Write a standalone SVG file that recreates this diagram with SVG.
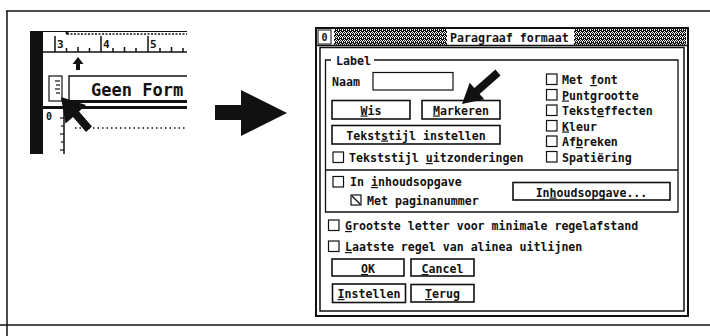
<svg xmlns="http://www.w3.org/2000/svg" width="710" height="336" viewBox="0 0 710 336">
  <defs>
    <style>
      .ln { stroke: #111; fill: none; }
      .blk { fill: #111; }
      .t { font-family: "DejaVu Sans Mono", "Liberation Mono", monospace; font-weight: bold; font-size: 11.6px; fill: #111; }
      .big { font-size: 17px; }
      .num { font-size: 11px; }
      .sm { font-size: 10px; }
      .c { text-anchor: middle; }
      .u { text-decoration: underline; }
      .box { fill: #fff; stroke: #111; stroke-width: 1.2; }
      .btn { fill: #fff; stroke: #111; stroke-width: 1.6; }
    </style>
    <!-- dithered grey used for the window title bar -->
    <pattern id="dither" width="4" height="4" patternUnits="userSpaceOnUse">
      <rect width="4" height="4" fill="#fff"/>
      <rect x="0" y="0" width="1" height="1" fill="#111"/>
      <rect x="2" y="0" width="1" height="1" fill="#111"/>
      <rect x="1" y="1" width="1" height="1" fill="#111"/>
      <rect x="3" y="1" width="1" height="1" fill="#111"/>
      <rect x="0" y="2" width="1" height="1" fill="#111"/>
      <rect x="1" y="2" width="1" height="1" fill="#111"/>
      <rect x="3" y="2" width="1" height="1" fill="#111"/>
      <rect x="1" y="3" width="1" height="1" fill="#111"/>
      <rect x="2" y="3" width="1" height="1" fill="#111"/>
      <rect x="3" y="3" width="1" height="1" fill="#111"/>
    </pattern>
  </defs>

  <rect width="710" height="336" fill="#fff"/>

  <!-- frame -->
  <g id="frame" class="ln" stroke-width="1.5">
    <line x1="6" y1="11" x2="710" y2="11"/>
    <line x1="7" y1="11" x2="7" y2="336"/>
    <line x1="0" y1="325" x2="710" y2="325"/>
  </g>

  <!-- ruler detail with mouse pointer -->
  <g id="ruler">
    <rect class="blk" x="30" y="31" width="13" height="123"/>
    <line class="ln" x1="43" y1="31.5" x2="187" y2="31.5" stroke-width="1"/>
    <line class="ln" x1="67" y1="34" x2="187" y2="34" stroke-width="1.5" stroke-dasharray="2 1.5"/>
    <circle class="blk" cx="67" cy="33" r="1.5"/>
    <line class="ln" x1="43" y1="52" x2="187" y2="52" stroke-width="1.5"/>
    <g class="ln" stroke-width="1.5">
      <line x1="55" y1="36" x2="55" y2="52"/>
      <line x1="101" y1="36" x2="101" y2="52"/>
      <line x1="148" y1="36" x2="148" y2="52"/>
      <line x1="66.5" y1="48" x2="66.5" y2="52"/>
      <line x1="78" y1="47" x2="78" y2="52"/>
      <line x1="89.5" y1="48" x2="89.5" y2="52"/>
      <line x1="113" y1="48" x2="113" y2="52"/>
      <line x1="124.5" y1="47" x2="124.5" y2="52"/>
      <line x1="136" y1="48" x2="136" y2="52"/>
      <line x1="160" y1="48" x2="160" y2="52"/>
      <line x1="171.5" y1="47" x2="171.5" y2="52"/>
      <line x1="183" y1="48" x2="183" y2="52"/>
    </g>
    <text class="t num" x="57" y="47.5">3</text>
    <text class="t num" x="103" y="47.5">4</text>
    <text class="t num" x="150" y="47.5">5</text>
    <!-- small up arrow -->
    <polygon class="blk" points="72.5,64 78,57 83.5,64 80,64 80,70 76,70 76,64"/>
    <!-- vertical ruler piece -->
    <rect x="49" y="76" width="13" height="25" fill="#fff" stroke="#111" stroke-width="1.2"/>
    <g class="ln" stroke-width="1.2">
      <line x1="55" y1="81" x2="60" y2="81"/>
      <line x1="56" y1="85" x2="60" y2="85"/>
      <line x1="55" y1="89" x2="60" y2="89"/>
      <line x1="56" y1="93" x2="60" y2="93"/>
    </g>
    <!-- style box -->
    <path class="ln" d="M187,76 H69 V101" stroke-width="1.4"/>
    <line class="ln" x1="69" y1="101.5" x2="187" y2="101.5" stroke-width="3"/>
    <line class="ln" x1="43" y1="107.5" x2="187" y2="107.5" stroke-width="3"/>
    <text class="t big" x="91" y="96">Geen Form</text>
    <text class="t sm" x="46" y="120">0</text>
    <line class="ln" x1="64" y1="108" x2="64" y2="154" stroke-width="1.5"/>
    <g class="ln" stroke-width="1.2">
      <line x1="60" y1="118" x2="64" y2="118"/>
      <line x1="61" y1="126" x2="64" y2="126"/>
      <line x1="60" y1="134" x2="64" y2="134"/>
      <line x1="61" y1="142" x2="64" y2="142"/>
      <line x1="60" y1="150" x2="64" y2="150"/>
    </g>
    <line class="ln" x1="75" y1="128" x2="187" y2="128" stroke-width="1.3" stroke-dasharray="1.5 3"/>
    <!-- mouse pointer -->
    <polygon class="blk" points="61,97 86,105 79,111.5 92,126.5 86,132 73,117 65.5,123.5"/>
  </g>

  <!-- connector between the two panels -->
  <g id="connectors">
    <polygon class="blk" points="215,105 241,105 241,90 287,113 241,136 241,120 215,120"/>
  </g>

  <!-- dialog window -->
  <g id="dialog">
    <rect x="316" y="28" width="372" height="288" fill="#fff" stroke="#111" stroke-width="2"/>
    <rect x="334" y="29" width="352" height="16" fill="url(#dither)"/>
    <rect x="447" y="29" width="127" height="16" fill="#fff"/>
    <rect x="318" y="30" width="13" height="14" fill="#fff" stroke="#111" stroke-width="1"/>
    <text class="t sm c" x="324.5" y="41">0</text>
    <text class="t" x="450" y="41.5">Paragraaf formaat</text>
    <line class="ln" x1="316" y1="45.5" x2="688" y2="45.5" stroke-width="1.5"/>
    <rect x="320" y="47.5" width="364" height="263.5" fill="none" stroke="#111" stroke-width="1.5"/>
  </g>

  <!-- Label group -->
  <g id="label-group">
    <path class="ln" stroke-width="1.3" d="M331,60 H325.5 V212 H678 V60 H374"/>
    <line class="ln" x1="325.5" y1="170" x2="678" y2="170" stroke-width="1.3"/>
    <text class="t" x="336" y="65">Label</text>
    <text class="t" x="332" y="86">Naam</text>
    <rect class="box" x="373" y="72.5" width="80" height="17.5"/>
  </g>

  <g id="btn-wis">
    <rect class="btn" x="332" y="100.5" width="78" height="18.5"/>
    <text class="t c" x="371" y="114.5"><tspan class="u">W</tspan>is</text>
  </g>
  <g id="btn-markeren">
    <rect class="btn" x="422" y="100.5" width="78" height="18.5"/>
    <text class="t c" x="461" y="114.5"><tspan class="u">M</tspan>arkeren</text>
  </g>
  <g id="pointer">
    <polygon class="blk" points="462,104 469.7,82.8 474.4,88 495.4,69.5 500.6,75.5 479.6,94 484.3,99.3"/>
  </g>
  <g id="btn-tekststijl">
    <rect class="btn" x="332" y="125.5" width="168" height="18.5"/>
    <text class="t c" x="416" y="139.5">Tekst<tspan class="u">s</tspan>tijl instellen</text>
  </g>
  <g id="chk-uitzonderingen">
    <rect class="box" x="333" y="152" width="10.5" height="10.5"/>
    <text class="t" x="349" y="162">Tekststijl <tspan class="u">u</tspan>itzonderingen</text>
  </g>

  <!-- right column options -->
  <g id="chk-font">
    <rect class="box" x="546.5" y="74" width="10.5" height="10.5"/>
    <text class="t" x="562" y="84">Met <tspan class="u">f</tspan>ont</text>
  </g>
  <g id="chk-punt">
    <rect class="box" x="546.5" y="89.5" width="10.5" height="10.5"/>
    <text class="t" x="562" y="99.5"><tspan class="u">P</tspan>untgrootte</text>
  </g>
  <g id="chk-effect">
    <rect class="box" x="546.5" y="105" width="10.5" height="10.5"/>
    <text class="t" x="562" y="115">Tekst<tspan class="u">e</tspan>ffecten</text>
  </g>
  <g id="chk-kleur">
    <rect class="box" x="546.5" y="120.5" width="10.5" height="10.5"/>
    <text class="t" x="562" y="130.5"><tspan class="u">K</tspan>leur</text>
  </g>
  <g id="chk-afbreken">
    <rect class="box" x="546.5" y="136" width="10.5" height="10.5"/>
    <text class="t" x="562" y="146">Af<tspan class="u">b</tspan>reken</text>
  </g>
  <g id="chk-spatiering">
    <rect class="box" x="546.5" y="151.5" width="10.5" height="10.5"/>
    <text class="t" x="562" y="161.5">Spatiëring</text>
  </g>

  <!-- table of contents options -->
  <g id="chk-inhoud">
    <rect class="box" x="333" y="176.5" width="10.5" height="10.5"/>
    <text class="t" x="350" y="186">In <tspan class="u">i</tspan>nhoudsopgave</text>
  </g>
  <g id="chk-pagina">
    <rect class="box" x="351" y="195" width="10" height="10"/>
    <line class="ln" x1="352" y1="196" x2="360" y2="204" stroke-width="1.2"/>
    <text class="t" x="367" y="205">Met paginanummer</text>
  </g>
  <g id="btn-inhoud">
    <rect class="btn" x="513" y="182.5" width="157" height="17.5"/>
    <text class="t c" x="591.5" y="196.5">In<tspan class="u">h</tspan>oudsopgave...</text>
  </g>

  <g id="chk-grootste">
    <rect class="box" x="328.5" y="220" width="10.5" height="10.5"/>
    <text class="t" x="345" y="230"><tspan class="u">G</tspan>rootste letter voor minimale regelafstand</text>
  </g>
  <g id="chk-laatste">
    <rect class="box" x="328.5" y="241" width="10.5" height="10.5"/>
    <text class="t" x="345" y="251"><tspan class="u">L</tspan>aatste regel van alinea uitlijnen</text>
  </g>

  <g id="btn-ok">
    <rect class="btn" x="332" y="259" width="72" height="17"/>
    <text class="t c" x="368" y="273"><tspan class="u">O</tspan>K</text>
  </g>
  <g id="btn-cancel">
    <rect class="btn" x="411" y="259" width="63" height="17"/>
    <text class="t c" x="442.5" y="273"><tspan class="u">C</tspan>ancel</text>
  </g>
  <g id="btn-instellen">
    <rect class="btn" x="332.5" y="284" width="73" height="18.5" stroke-width="3"/>
    <text class="t c" x="369" y="298"><tspan class="u">I</tspan>nstellen</text>
  </g>
  <g id="btn-terug">
    <rect class="btn" x="411" y="284.5" width="63" height="17.5"/>
    <text class="t c" x="442.5" y="298"><tspan class="u">T</tspan>erug</text>
  </g>
</svg>
